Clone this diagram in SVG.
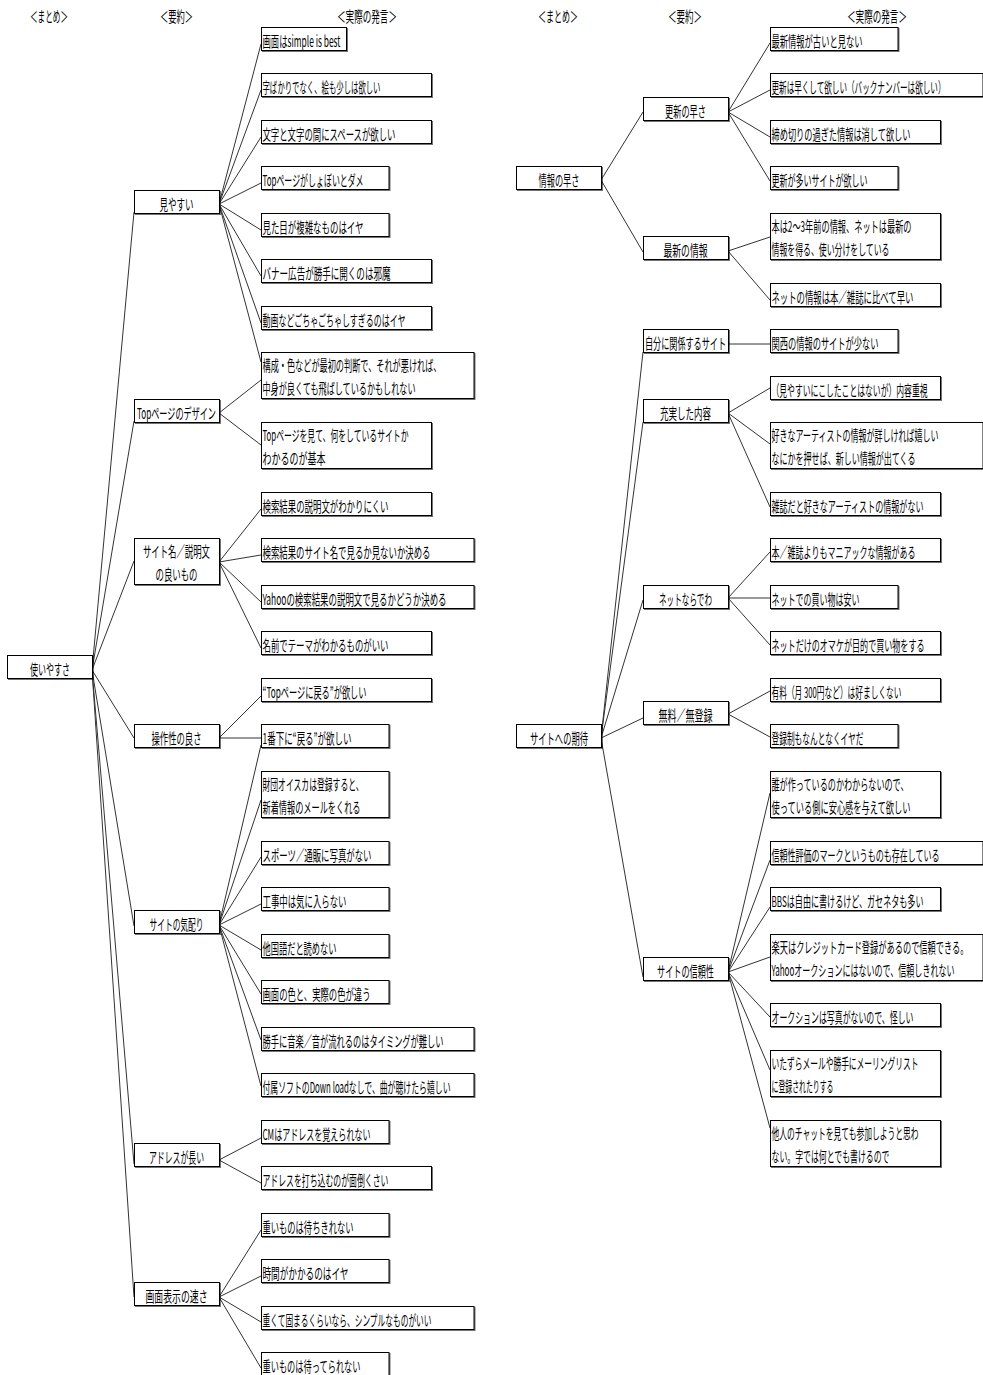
<svg xmlns="http://www.w3.org/2000/svg" width="983" height="1375" viewBox="0 0 983 1375">
<defs>
<filter id="sh" x="-5%" y="-5%" width="110%" height="120%"><feDropShadow dx="1" dy="1" stdDeviation="0" flood-color="#000" flood-opacity="0.55"/></filter>
<style>
.box{fill:#fff;stroke:#000;stroke-width:1;filter:url(#sh)}
text{font-family:"Noto Sans CJK JP","Noto Sans",sans-serif;font-size:15px;fill:#000;transform:scale(0.5,1)}
.c{text-anchor:middle}
.conn line{stroke:#333;stroke-width:1}
</style>
</defs>
<rect width="983" height="1375" fill="#fff"/>
<g id="headers">
<text class="c" x="98" y="22" textLength="76" lengthAdjust="spacingAndGlyphs">＜まとめ＞</text>
<text class="c" x="353" y="22" textLength="66" lengthAdjust="spacingAndGlyphs">＜要約＞</text>
<text class="c" x="734" y="22" textLength="120" lengthAdjust="spacingAndGlyphs">＜実際の発言＞</text>
<text class="c" x="1116" y="22" textLength="80" lengthAdjust="spacingAndGlyphs">＜まとめ＞</text>
<text class="c" x="1370" y="22" textLength="68" lengthAdjust="spacingAndGlyphs">＜要約＞</text>
<text class="c" x="1754" y="22" textLength="120" lengthAdjust="spacingAndGlyphs">＜実際の発言＞</text>
</g>
<g id="connectors" class="conn">
<line x1="92" y1="670" x2="134" y2="212"/>
<line x1="92" y1="670" x2="134" y2="421"/>
<line x1="92" y1="670" x2="134" y2="561"/>
<line x1="92" y1="670" x2="134" y2="738"/>
<line x1="92" y1="670" x2="134" y2="926"/>
<line x1="92" y1="670" x2="134" y2="1164"/>
<line x1="92" y1="670" x2="134" y2="1297"/>
<line x1="219" y1="204" x2="261" y2="44"/>
<line x1="219" y1="204" x2="261" y2="90"/>
<line x1="219" y1="204" x2="261" y2="137"/>
<line x1="219" y1="204" x2="261" y2="183"/>
<line x1="219" y1="204" x2="261" y2="230"/>
<line x1="219" y1="204" x2="261" y2="276"/>
<line x1="219" y1="204" x2="261" y2="323"/>
<line x1="219" y1="204" x2="261" y2="362"/>
<line x1="219" y1="413" x2="261" y2="380"/>
<line x1="219" y1="413" x2="261" y2="445"/>
<line x1="219" y1="562" x2="261" y2="509"/>
<line x1="219" y1="562" x2="261" y2="555"/>
<line x1="219" y1="562" x2="261" y2="602"/>
<line x1="219" y1="562" x2="261" y2="648"/>
<line x1="219" y1="738" x2="261" y2="696"/>
<line x1="219" y1="738" x2="261" y2="738"/>
<line x1="219" y1="925" x2="261" y2="745"/>
<line x1="219" y1="925" x2="261" y2="800"/>
<line x1="219" y1="925" x2="261" y2="857"/>
<line x1="219" y1="925" x2="261" y2="904"/>
<line x1="219" y1="925" x2="261" y2="950"/>
<line x1="219" y1="925" x2="261" y2="994"/>
<line x1="219" y1="925" x2="261" y2="1040"/>
<line x1="219" y1="925" x2="261" y2="1086"/>
<line x1="219" y1="1160" x2="261" y2="1138"/>
<line x1="219" y1="1160" x2="261" y2="1183"/>
<line x1="219" y1="1297" x2="261" y2="1230"/>
<line x1="219" y1="1297" x2="261" y2="1276"/>
<line x1="219" y1="1297" x2="261" y2="1322"/>
<line x1="219" y1="1297" x2="261" y2="1368"/>
<line x1="601" y1="180" x2="643" y2="112"/>
<line x1="601" y1="180" x2="643" y2="252"/>
<line x1="728" y1="112" x2="770" y2="43"/>
<line x1="728" y1="112" x2="770" y2="90"/>
<line x1="728" y1="112" x2="770" y2="137"/>
<line x1="728" y1="112" x2="770" y2="181"/>
<line x1="728" y1="251" x2="770" y2="237"/>
<line x1="728" y1="251" x2="770" y2="300"/>
<line x1="601" y1="738" x2="643" y2="352"/>
<line x1="601" y1="738" x2="643" y2="422"/>
<line x1="601" y1="738" x2="643" y2="600"/>
<line x1="601" y1="738" x2="643" y2="718"/>
<line x1="601" y1="738" x2="643" y2="977"/>
<line x1="728" y1="344" x2="770" y2="344"/>
<line x1="728" y1="413" x2="770" y2="388"/>
<line x1="728" y1="413" x2="770" y2="444"/>
<line x1="728" y1="413" x2="770" y2="507"/>
<line x1="728" y1="598" x2="770" y2="552"/>
<line x1="728" y1="598" x2="770" y2="598"/>
<line x1="728" y1="598" x2="770" y2="645"/>
<line x1="728" y1="714" x2="770" y2="691"/>
<line x1="728" y1="714" x2="770" y2="737"/>
<line x1="728" y1="972" x2="770" y2="793"/>
<line x1="728" y1="972" x2="770" y2="860"/>
<line x1="728" y1="972" x2="770" y2="907"/>
<line x1="728" y1="972" x2="770" y2="957"/>
<line x1="728" y1="972" x2="770" y2="1017"/>
<line x1="728" y1="972" x2="770" y2="1070"/>
<line x1="728" y1="972" x2="770" y2="1128"/>
</g>
<g id="n-root"><rect class="box" x="7.5" y="655.5" width="85" height="23"/><text class="c" x="100" y="675.5" textLength="80" lengthAdjust="spacingAndGlyphs">使いやすさ</text></g>
<g id="n-l2-1"><rect class="box" x="134.5" y="190.5" width="85" height="23"/><text class="c" x="353" y="210.5" textLength="68" lengthAdjust="spacingAndGlyphs">見やすい</text></g>
<g id="n-l2-2"><rect class="box" x="134.5" y="399.5" width="85" height="23"/><text class="c" x="353" y="419.5" textLength="158" lengthAdjust="spacingAndGlyphs">Topページのデザイン</text></g>
<g id="n-l2-3"><rect class="box" x="134.5" y="538.5" width="85" height="46"/><text class="c" x="353" y="557.5" textLength="134" lengthAdjust="spacingAndGlyphs">サイト名／説明文</text><text class="c" x="353" y="580.5" textLength="84" lengthAdjust="spacingAndGlyphs">の良いもの</text></g>
<g id="n-l2-4"><rect class="box" x="134.5" y="724.5" width="85" height="23"/><text class="c" x="353" y="744.5" textLength="100" lengthAdjust="spacingAndGlyphs">操作性の良さ</text></g>
<g id="n-l2-5"><rect class="box" x="134.5" y="910.5" width="85" height="23"/><text class="c" x="353" y="930.5" textLength="108" lengthAdjust="spacingAndGlyphs">サイトの気配り</text></g>
<g id="n-l2-6"><rect class="box" x="134.5" y="1143.5" width="85" height="23"/><text class="c" x="353" y="1163.5" textLength="110" lengthAdjust="spacingAndGlyphs">アドレスが長い</text></g>
<g id="n-l2-7"><rect class="box" x="134.5" y="1282.5" width="85" height="23"/><text class="c" x="353" y="1302.5" textLength="124" lengthAdjust="spacingAndGlyphs">画面表示の速さ</text></g>
<g id="n-a1"><rect class="box" x="261.5" y="27.5" width="85" height="23"/><text x="525" y="47.5" textLength="156" lengthAdjust="spacingAndGlyphs">画面はsimple is best</text></g>
<g id="n-a2"><rect class="box" x="261.5" y="73.5" width="170" height="23"/><text x="525" y="93.5" textLength="236" lengthAdjust="spacingAndGlyphs">字ばかりでなく、絵も少しは欲しい</text></g>
<g id="n-a3"><rect class="box" x="261.5" y="120.5" width="170" height="23"/><text x="525" y="140.5" textLength="266" lengthAdjust="spacingAndGlyphs">文字と文字の間にスペースが欲しい</text></g>
<g id="n-a4"><rect class="box" x="261.5" y="166.5" width="127.5" height="23"/><text x="525" y="186.5" textLength="202" lengthAdjust="spacingAndGlyphs">Topページがしょぼいとダメ</text></g>
<g id="n-a5"><rect class="box" x="261.5" y="213.5" width="127.5" height="23"/><text x="525" y="233.5" textLength="202" lengthAdjust="spacingAndGlyphs">見た目が複雑なものはイヤ</text></g>
<g id="n-a6"><rect class="box" x="261.5" y="259.5" width="170" height="23"/><text x="525" y="279.5" textLength="256" lengthAdjust="spacingAndGlyphs">バナー広告が勝手に開くのは邪魔</text></g>
<g id="n-a7"><rect class="box" x="261.5" y="306.5" width="170" height="23"/><text x="525" y="326.5" textLength="286" lengthAdjust="spacingAndGlyphs">動画などごちゃごちゃしすぎるのはイヤ</text></g>
<g id="n-a8"><rect class="box" x="261.5" y="352.5" width="212.5" height="46"/><text x="525" y="371.5" textLength="358" lengthAdjust="spacingAndGlyphs">構成・色などが最初の判断で、それが悪ければ、</text><text x="525" y="394.5" textLength="306" lengthAdjust="spacingAndGlyphs">中身が良くても飛ばしているかもしれない</text></g>
<g id="n-a9"><rect class="box" x="261.5" y="422.5" width="170" height="46"/><text x="525" y="441.5" textLength="292" lengthAdjust="spacingAndGlyphs">Topページを見て、何をしているサイトか</text><text x="525" y="464.5" textLength="126" lengthAdjust="spacingAndGlyphs">わかるのが基本</text></g>
<g id="n-a10"><rect class="box" x="261.5" y="492.5" width="170" height="23"/><text x="525" y="512.5" textLength="252" lengthAdjust="spacingAndGlyphs">検索結果の説明文がわかりにくい</text></g>
<g id="n-a11"><rect class="box" x="261.5" y="538.5" width="212.5" height="23"/><text x="525" y="558.5" textLength="336" lengthAdjust="spacingAndGlyphs">検索結果のサイト名で見るか見ないか決める</text></g>
<g id="n-a12"><rect class="box" x="261.5" y="585.5" width="212.5" height="23"/><text x="525" y="605.5" textLength="368" lengthAdjust="spacingAndGlyphs">Yahooの検索結果の説明文で見るかどうか決める</text></g>
<g id="n-a13"><rect class="box" x="261.5" y="631.5" width="170" height="23"/><text x="525" y="651.5" textLength="252" lengthAdjust="spacingAndGlyphs">名前でテーマがわかるものがいい</text></g>
<g id="n-a14"><rect class="box" x="261.5" y="678.5" width="170" height="23"/><text x="525" y="698.5" textLength="208" lengthAdjust="spacingAndGlyphs">“Topページに戻る”が欲しい</text></g>
<g id="n-a15"><rect class="box" x="261.5" y="724.5" width="127.5" height="23"/><text x="525" y="744.5" textLength="178" lengthAdjust="spacingAndGlyphs">1番下に“戻る”が欲しい</text></g>
<g id="n-a16"><rect class="box" x="261.5" y="771.5" width="127.5" height="46"/><text x="525" y="790.5" textLength="202" lengthAdjust="spacingAndGlyphs">財団オイスカは登録すると、</text><text x="525" y="813.5" textLength="196" lengthAdjust="spacingAndGlyphs">新着情報のメールをくれる</text></g>
<g id="n-a17"><rect class="box" x="261.5" y="841.5" width="127.5" height="23"/><text x="525" y="861.5" textLength="218" lengthAdjust="spacingAndGlyphs">スポーツ／通販に写真がない</text></g>
<g id="n-a18"><rect class="box" x="261.5" y="887.5" width="127.5" height="23"/><text x="525" y="907.5" textLength="168" lengthAdjust="spacingAndGlyphs">工事中は気に入らない</text></g>
<g id="n-a19"><rect class="box" x="261.5" y="934.5" width="127.5" height="23"/><text x="525" y="954.5" textLength="148" lengthAdjust="spacingAndGlyphs">他国語だと読めない</text></g>
<g id="n-a20"><rect class="box" x="261.5" y="980.5" width="127.5" height="23"/><text x="525" y="1000.5" textLength="216" lengthAdjust="spacingAndGlyphs">画面の色と、実際の色が違う</text></g>
<g id="n-a21"><rect class="box" x="261.5" y="1027.5" width="212.5" height="23"/><text x="525" y="1047.5" textLength="362" lengthAdjust="spacingAndGlyphs">勝手に音楽／音が流れるのはタイミングが難しい</text></g>
<g id="n-a22"><rect class="box" x="261.5" y="1073.5" width="212.5" height="23"/><text x="525" y="1093.5" textLength="376" lengthAdjust="spacingAndGlyphs">付属ソフトのDown loadなしで、曲が聴けたら嬉しい</text></g>
<g id="n-a23"><rect class="box" x="261.5" y="1120.5" width="127.5" height="23"/><text x="525" y="1140.5" textLength="216" lengthAdjust="spacingAndGlyphs">CMはアドレスを覚えられない</text></g>
<g id="n-a24"><rect class="box" x="261.5" y="1166.5" width="170" height="23"/><text x="525" y="1186.5" textLength="252" lengthAdjust="spacingAndGlyphs">アドレスを打ち込むのが面倒くさい</text></g>
<g id="n-a25"><rect class="box" x="261.5" y="1213.5" width="127.5" height="23"/><text x="525" y="1233.5" textLength="182" lengthAdjust="spacingAndGlyphs">重いものは待ちきれない</text></g>
<g id="n-a26"><rect class="box" x="261.5" y="1259.5" width="127.5" height="23"/><text x="525" y="1279.5" textLength="172" lengthAdjust="spacingAndGlyphs">時間がかかるのはイヤ</text></g>
<g id="n-a27"><rect class="box" x="261.5" y="1306.5" width="212.5" height="23"/><text x="525" y="1326.5" textLength="338" lengthAdjust="spacingAndGlyphs">重くて固まるくらいなら、シンプルなものがいい</text></g>
<g id="n-a28"><rect class="box" x="261.5" y="1352.5" width="127.5" height="23"/><text x="525" y="1372.5" textLength="196" lengthAdjust="spacingAndGlyphs">重いものは待ってられない</text></g>
<g id="n-r1-1"><rect class="box" x="516.5" y="166.5" width="85" height="23"/><text class="c" x="1118" y="186.5" textLength="82" lengthAdjust="spacingAndGlyphs">情報の早さ</text></g>
<g id="n-r1-2"><rect class="box" x="516.5" y="724.5" width="85" height="23"/><text class="c" x="1118" y="744.5" textLength="116" lengthAdjust="spacingAndGlyphs">サイトへの期待</text></g>
<g id="n-r2-1"><rect class="box" x="643.5" y="97.5" width="85" height="23"/><text class="c" x="1371" y="117.5" textLength="82" lengthAdjust="spacingAndGlyphs">更新の早さ</text></g>
<g id="n-r2-2"><rect class="box" x="643.5" y="236.5" width="85" height="23"/><text class="c" x="1371" y="256.5" textLength="88" lengthAdjust="spacingAndGlyphs">最新の情報</text></g>
<g id="n-r2-3"><rect class="box" x="643.5" y="329.5" width="85" height="23"/><text class="c" x="1371" y="349.5" textLength="162" lengthAdjust="spacingAndGlyphs">自分に関係するサイト</text></g>
<g id="n-r2-4"><rect class="box" x="643.5" y="399.5" width="85" height="23"/><text class="c" x="1371" y="419.5" textLength="102" lengthAdjust="spacingAndGlyphs">充実した内容</text></g>
<g id="n-r2-5"><rect class="box" x="643.5" y="585.5" width="85" height="23"/><text class="c" x="1371" y="605.5" textLength="106" lengthAdjust="spacingAndGlyphs">ネットならでわ</text></g>
<g id="n-r2-6"><rect class="box" x="643.5" y="701.5" width="85" height="23"/><text class="c" x="1371" y="721.5" textLength="108" lengthAdjust="spacingAndGlyphs">無料／無登録</text></g>
<g id="n-r2-7"><rect class="box" x="643.5" y="957.5" width="85" height="23"/><text class="c" x="1371" y="977.5" textLength="114" lengthAdjust="spacingAndGlyphs">サイトの信頼性</text></g>
<g id="n-b1"><rect class="box" x="770.5" y="27.5" width="127.5" height="23"/><text x="1543" y="47.5" textLength="182" lengthAdjust="spacingAndGlyphs">最新情報が古いと見ない</text></g>
<g id="n-b2"><rect class="box" x="770.5" y="73.5" width="212.5" height="23"/><text x="1543" y="93.5" textLength="348" lengthAdjust="spacingAndGlyphs">更新は早くして欲しい（バックナンバーは欲しい）</text></g>
<g id="n-b3"><rect class="box" x="770.5" y="120.5" width="170" height="23"/><text x="1543" y="140.5" textLength="278" lengthAdjust="spacingAndGlyphs">締め切りの過ぎた情報は消して欲しい</text></g>
<g id="n-b4"><rect class="box" x="770.5" y="166.5" width="127.5" height="23"/><text x="1543" y="186.5" textLength="192" lengthAdjust="spacingAndGlyphs">更新が多いサイトが欲しい</text></g>
<g id="n-b5"><rect class="box" x="770.5" y="213.5" width="170" height="46"/><text x="1543" y="232.5" textLength="280" lengthAdjust="spacingAndGlyphs">本は2〜3年前の情報、ネットは最新の</text><text x="1543" y="255.5" textLength="236" lengthAdjust="spacingAndGlyphs">情報を得る、使い分けをしている</text></g>
<g id="n-b6"><rect class="box" x="770.5" y="283.5" width="170" height="23"/><text x="1543" y="303.5" textLength="284" lengthAdjust="spacingAndGlyphs">ネットの情報は本／雑誌に比べて早い</text></g>
<g id="n-b7"><rect class="box" x="770.5" y="329.5" width="127.5" height="23"/><text x="1543" y="349.5" textLength="214" lengthAdjust="spacingAndGlyphs">関西の情報のサイトが少ない</text></g>
<g id="n-b8"><rect class="box" x="770.5" y="376.5" width="170" height="23"/><text x="1543" y="396.5" textLength="312" lengthAdjust="spacingAndGlyphs">（見やすいにこしたことはないが）内容重視</text></g>
<g id="n-b9"><rect class="box" x="770.5" y="422.5" width="212.5" height="46"/><text x="1543" y="441.5" textLength="334" lengthAdjust="spacingAndGlyphs">好きなアーティストの情報が詳しければ嬉しい</text><text x="1543" y="464.5" textLength="288" lengthAdjust="spacingAndGlyphs">なにかを押せば、新しい情報が出てくる</text></g>
<g id="n-b10"><rect class="box" x="770.5" y="492.5" width="170" height="23"/><text x="1543" y="512.5" textLength="304" lengthAdjust="spacingAndGlyphs">雑誌だと好きなアーティストの情報がない</text></g>
<g id="n-b11"><rect class="box" x="770.5" y="538.5" width="170" height="23"/><text x="1543" y="558.5" textLength="288" lengthAdjust="spacingAndGlyphs">本／雑誌よりもマニアックな情報がある</text></g>
<g id="n-b12"><rect class="box" x="770.5" y="585.5" width="127.5" height="23"/><text x="1543" y="605.5" textLength="176" lengthAdjust="spacingAndGlyphs">ネットでの買い物は安い</text></g>
<g id="n-b13"><rect class="box" x="770.5" y="631.5" width="170" height="23"/><text x="1543" y="651.5" textLength="306" lengthAdjust="spacingAndGlyphs">ネットだけのオマケが目的で買い物をする</text></g>
<g id="n-b14"><rect class="box" x="770.5" y="678.5" width="170" height="23"/><text x="1543" y="698.5" textLength="260" lengthAdjust="spacingAndGlyphs">有料（月 300円など）は好ましくない</text></g>
<g id="n-b15"><rect class="box" x="770.5" y="724.5" width="127.5" height="23"/><text x="1543" y="744.5" textLength="184" lengthAdjust="spacingAndGlyphs">登録制もなんとなくイヤだ</text></g>
<g id="n-b16"><rect class="box" x="770.5" y="771.5" width="170" height="46"/><text x="1543" y="790.5" textLength="274" lengthAdjust="spacingAndGlyphs">誰が作っているのかわからないので、</text><text x="1543" y="813.5" textLength="278" lengthAdjust="spacingAndGlyphs">使っている側に安心感を与えて欲しい</text></g>
<g id="n-b17"><rect class="box" x="770.5" y="841.5" width="212.5" height="23"/><text x="1543" y="861.5" textLength="336" lengthAdjust="spacingAndGlyphs">信頼性評価のマークというものも存在している</text></g>
<g id="n-b18"><rect class="box" x="770.5" y="887.5" width="170" height="23"/><text x="1543" y="907.5" textLength="304" lengthAdjust="spacingAndGlyphs">BBSは自由に書けるけど、ガセネタも多い</text></g>
<g id="n-b19"><rect class="box" x="770.5" y="934.5" width="212.5" height="46"/><text x="1543" y="953.5" textLength="394" lengthAdjust="spacingAndGlyphs">楽天はクレジットカード登録があるので信頼できる。</text><text x="1543" y="976.5" textLength="366" lengthAdjust="spacingAndGlyphs">Yahooオークションにはないので、信頼しきれない</text></g>
<g id="n-b20"><rect class="box" x="770.5" y="1003.5" width="170" height="23"/><text x="1543" y="1023.5" textLength="284" lengthAdjust="spacingAndGlyphs">オークションは写真がないので、怪しい</text></g>
<g id="n-b21"><rect class="box" x="770.5" y="1050.5" width="170" height="46"/><text x="1543" y="1069.5" textLength="294" lengthAdjust="spacingAndGlyphs">いたずらメールや勝手にメーリングリスト</text><text x="1543" y="1092.5" textLength="124" lengthAdjust="spacingAndGlyphs">に登録されたりする</text></g>
<g id="n-b22"><rect class="box" x="770.5" y="1120.5" width="170" height="46"/><text x="1543" y="1139.5" textLength="294" lengthAdjust="spacingAndGlyphs">他人のチャットを見ても参加しようと思わ</text><text x="1543" y="1162.5" textLength="236" lengthAdjust="spacingAndGlyphs">ない。字では何とでも書けるので</text></g>
</svg>
